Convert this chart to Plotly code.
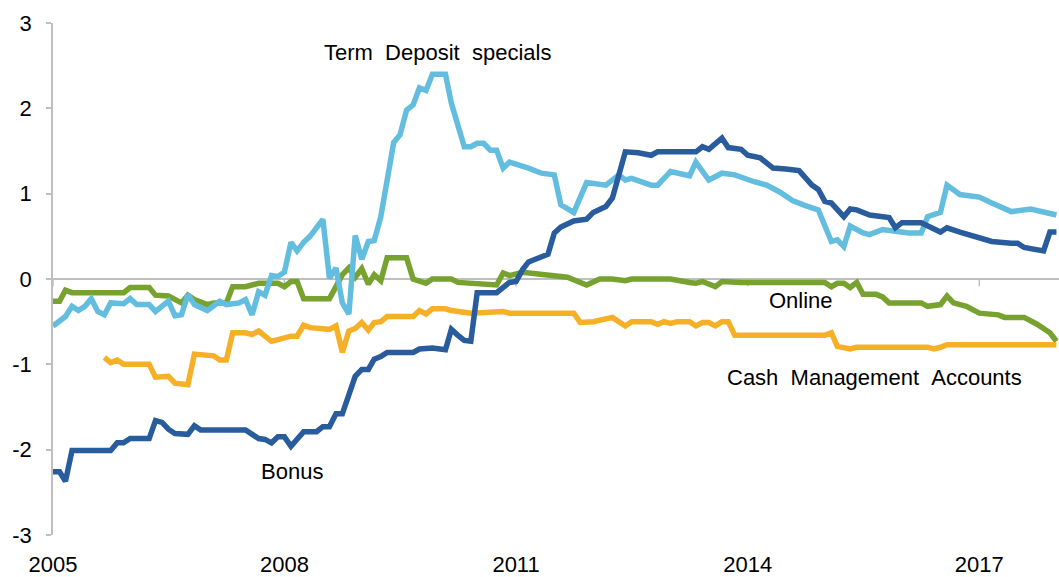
import plotly.graph_objects as go

# Monthly spreads (percentage points), 2005 onwards; month index 0 = Jan 2005
bonus_m = [0, 1, 2, 3, 9, 10, 11, 12, 15, 16, 17, 18, 19, 21, 22, 23, 30, 32, 33, 34, 35, 36, 37, 39, 41,
           42, 43, 44, 45, 46, 47, 48, 49, 50, 51, 52, 56, 57, 58, 59, 61, 62, 63, 64, 65, 66, 69, 70, 71,
           72, 73, 74, 77, 78, 79, 81, 83, 84, 86, 87, 89, 91, 93, 94, 100, 101, 102, 104, 105, 107, 108,
           110, 112, 114, 116, 118, 119, 120, 121, 123, 124, 125, 127, 130, 131, 132, 135, 138, 139, 141,
           144, 146, 149, 150, 151, 154, 155, 156]
bonus_v = [-2.26, -2.26, -2.37, -2.01, -2.01, -1.92, -1.92, -1.87, -1.87, -1.66, -1.68, -1.76, -1.81,
           -1.82, -1.72, -1.77, -1.77, -1.87, -1.88, -1.92, -1.85, -1.85, -1.96, -1.79, -1.79, -1.73,
           -1.73, -1.58, -1.58, -1.37, -1.14, -1.06, -1.06, -0.94, -0.91, -0.86, -0.86, -0.82, -0.82,
           -0.81, -0.83, -0.59, -0.66, -0.72, -0.73, -0.16, -0.16, -0.10, -0.04, -0.03, 0.11, 0.20, 0.29,
           0.54, 0.61, 0.68, 0.70, 0.78, 0.85, 0.95, 1.49, 1.48, 1.45, 1.49, 1.49, 1.55, 1.52, 1.65, 1.54,
           1.52, 1.45, 1.42, 1.30, 1.29, 1.27, 1.10, 1.05, 0.91, 0.89, 0.73, 0.82, 0.81, 0.75, 0.72, 0.60,
           0.66, 0.66, 0.55, 0.60, 0.55, 0.48, 0.44, 0.42, 0.42, 0.37, 0.33, 0.55, 0.55]

td_m = [0, 1, 2, 3, 4, 5, 6, 7, 8, 9, 11, 12, 13, 15, 16, 18, 19, 20, 21, 22, 24, 26, 27, 29, 30, 31, 32,
        33, 34, 35, 36, 37, 38, 39, 40, 41, 42, 43, 44, 45, 46, 47, 48, 49, 50, 51, 53, 54, 55, 56, 57,
        58, 59, 61, 62, 64, 65, 66, 67, 68, 69, 70, 71, 74, 76, 78, 79, 81, 83, 86, 88, 89, 90, 93, 94,
        96, 99, 100, 102, 104, 106, 109, 111, 113, 115, 117, 119, 121, 122, 123, 124, 126, 127, 129,
        133, 135, 136, 138, 139, 141, 144, 146, 149, 152, 154, 156]
td_v = [-0.55, -0.50, -0.44, -0.32, -0.37, -0.32, -0.23, -0.38, -0.42, -0.28, -0.29, -0.23, -0.30,
        -0.30, -0.38, -0.26, -0.43, -0.42, -0.18, -0.30, -0.37, -0.26, -0.30, -0.28, -0.24, -0.42,
        -0.15, -0.19, 0.04, 0.03, 0.08, 0.43, 0.33, 0.43, 0.50, 0.60, 0.70, 0.01, 0.13, -0.28, -0.41,
        0.51, 0.23, 0.44, 0.45, 0.73, 1.60, 1.69, 1.98, 2.04, 2.24, 2.21, 2.40, 2.40, 2.06, 1.55, 1.55,
        1.59, 1.59, 1.51, 1.51, 1.30, 1.37, 1.30, 1.24, 1.22, 0.87, 0.78, 1.13, 1.10, 1.22, 1.16, 1.18,
        1.10, 1.10, 1.26, 1.21, 1.37, 1.16, 1.24, 1.22, 1.14, 1.10, 1.02, 0.92, 0.86, 0.81, 0.44, 0.46,
        0.38, 0.62, 0.54, 0.52, 0.58, 0.54, 0.54, 0.73, 0.78, 1.10, 0.99, 0.96, 0.89, 0.79, 0.82, 0.78,
        0.75]

online_m = [0, 1, 2, 3, 11, 12, 15, 16, 18, 19, 20, 21, 22, 24, 25, 27, 28, 30, 32, 35, 36, 37, 38, 39,
            43, 44, 45, 46, 47, 48, 49, 50, 51, 52, 55, 56, 58, 59, 62, 63, 69, 70, 71, 73, 77, 80, 83,
            85, 87, 89, 90, 96, 99, 100, 101, 103, 104, 107, 120, 121, 122, 123, 124, 125, 126, 128, 129,
            130, 135, 136, 138, 139, 140, 142, 144, 147, 148, 151, 153, 155, 156]
online_v = [-0.26, -0.26, -0.13, -0.16, -0.16, -0.10, -0.10, -0.19, -0.20, -0.24, -0.28, -0.19, -0.24,
            -0.30, -0.28, -0.28, -0.09, -0.09, -0.05, -0.05, -0.09, -0.03, -0.03, -0.23, -0.23, -0.09,
            0.05, 0.13, 0.02, 0.12, -0.06, 0.05, -0.02, 0.25, 0.25, 0.00, -0.05, 0.00, 0.00, -0.04, -0.07,
            0.07, 0.04, 0.08, 0.04, 0.02, -0.07, 0.00, 0.00, -0.02, 0.00, 0.00, -0.04, -0.05, -0.03, -0.09,
            -0.03, -0.04, -0.04, -0.09, -0.05, -0.05, -0.10, -0.04, -0.18, -0.18, -0.21, -0.28, -0.28,
            -0.32, -0.30, -0.20, -0.28, -0.32, -0.40, -0.42, -0.45, -0.45, -0.53, -0.63, -0.73]

cma_m = [8, 9, 10, 11, 15, 16, 18, 19, 21, 22, 25, 26, 27, 28, 30, 31, 32, 34, 35, 37, 38, 39, 40, 43, 44,
         45, 46, 47, 48, 49, 50, 51, 52, 56, 57, 58, 59, 61, 62, 63, 65, 70, 71, 81, 82, 84, 87, 89, 90,
         93, 94, 95, 96, 97, 99, 100, 101, 102, 103, 104, 105, 106, 120, 121, 122, 124, 125, 136, 137,
         138, 139, 156]
cma_v = [-0.92, -0.98, -0.95, -1.00, -1.00, -1.15, -1.14, -1.22, -1.24, -0.88, -0.90, -0.95, -0.95,
         -0.63, -0.63, -0.65, -0.61, -0.73, -0.71, -0.67, -0.67, -0.54, -0.57, -0.59, -0.55, -0.86, -0.61,
         -0.58, -0.51, -0.60, -0.51, -0.50, -0.44, -0.44, -0.37, -0.41, -0.35, -0.35, -0.37, -0.38,
         -0.40, -0.38, -0.40, -0.40, -0.51, -0.50, -0.45, -0.55, -0.50, -0.50, -0.53, -0.50, -0.52,
         -0.50, -0.50, -0.55, -0.51, -0.51, -0.55, -0.50, -0.50, -0.66, -0.66, -0.63, -0.79, -0.82,
         -0.80, -0.80, -0.82, -0.80, -0.77, -0.77]

tick_years = [2005, 2008, 2011, 2014, 2017]
y_ticks = [-3, -2, -1, 0, 1, 2, 3]


def to_dates(months):
    return [f"{2005 + m // 12}-{m % 12 + 1:02d}-01" for m in months]


FONT = "Liberation Sans, Arial, sans-serif"
AXIS_GREY = "#BFBFBF"

series = [
    ("Online", online_m, online_v, "#77A22F"),
    ("Cash Management Accounts", cma_m, cma_v, "#F5B027"),
    ("Term Deposit specials", td_m, td_v, "#63BDDE"),
    ("Bonus", bonus_m, bonus_v, "#285C9D"),
]

fig = go.Figure()
for name, months, vals, color in series:
    fig.add_trace(go.Scatter(
        x=to_dates(months), y=vals, mode="lines", name=name,
        line=dict(color=color, width=5.5), showlegend=False,
    ))

# small downward tick marks on the zero line
for yr in tick_years:
    fig.add_shape(type="line", xref="x", yref="y",
                  x0=f"{yr}-01-01", x1=f"{yr}-01-01", y0=0, y1=-0.085,
                  line=dict(color=AXIS_GREY, width=1.5), layer="below")

labels = [
    ("Term&nbsp;&nbsp;Deposit&nbsp;&nbsp;specials", 59.8, 2.65),
    ("Online", 116.4, -0.25),
    ("Cash&nbsp;&nbsp;Management&nbsp;&nbsp;Accounts", 127.8, -1.15),
    ("Bonus", 37.2, -2.26),
]
for text, m, yv in labels:
    mi = int(m)
    day = 1 + int((m - mi) * 28)
    fig.add_annotation(
        x=f"{2005 + mi // 12}-{mi % 12 + 1:02d}-{day:02d}", y=yv, text=text,
        showarrow=False, xanchor="center", yanchor="middle",
        font=dict(family=FONT, size=22, color="black"),
    )

fig.update_layout(
    width=1059, height=577,
    margin=dict(l=53, r=0, t=23, b=40),
    plot_bgcolor="white", paper_bgcolor="white",
    font=dict(family=FONT, size=22, color="black"),
    xaxis=dict(
        type="date", range=["2005-01-01", "2018-01-13"],
        tickvals=[f"{y}-01-01" for y in tick_years],
        ticktext=[str(y) for y in tick_years],
        showgrid=False, zeroline=False, showline=False, ticks="",
        ticklabelstandoff=14,
        tickfont=dict(family=FONT, size=22, color="black"),
    ),
    yaxis=dict(
        range=[-3, 3], tickvals=y_ticks,
        ticktext=[str(v) for v in y_ticks],
        showgrid=False, showline=True, linecolor=AXIS_GREY, linewidth=1.5,
        ticks="outside", ticklen=5, tickcolor=AXIS_GREY, tickwidth=1.5,
        zeroline=True, zerolinecolor=AXIS_GREY, zerolinewidth=1.5,
        ticklabelstandoff=10,
        tickfont=dict(family=FONT, size=22, color="black"),
    ),
)

fig.write_html("out.html")
